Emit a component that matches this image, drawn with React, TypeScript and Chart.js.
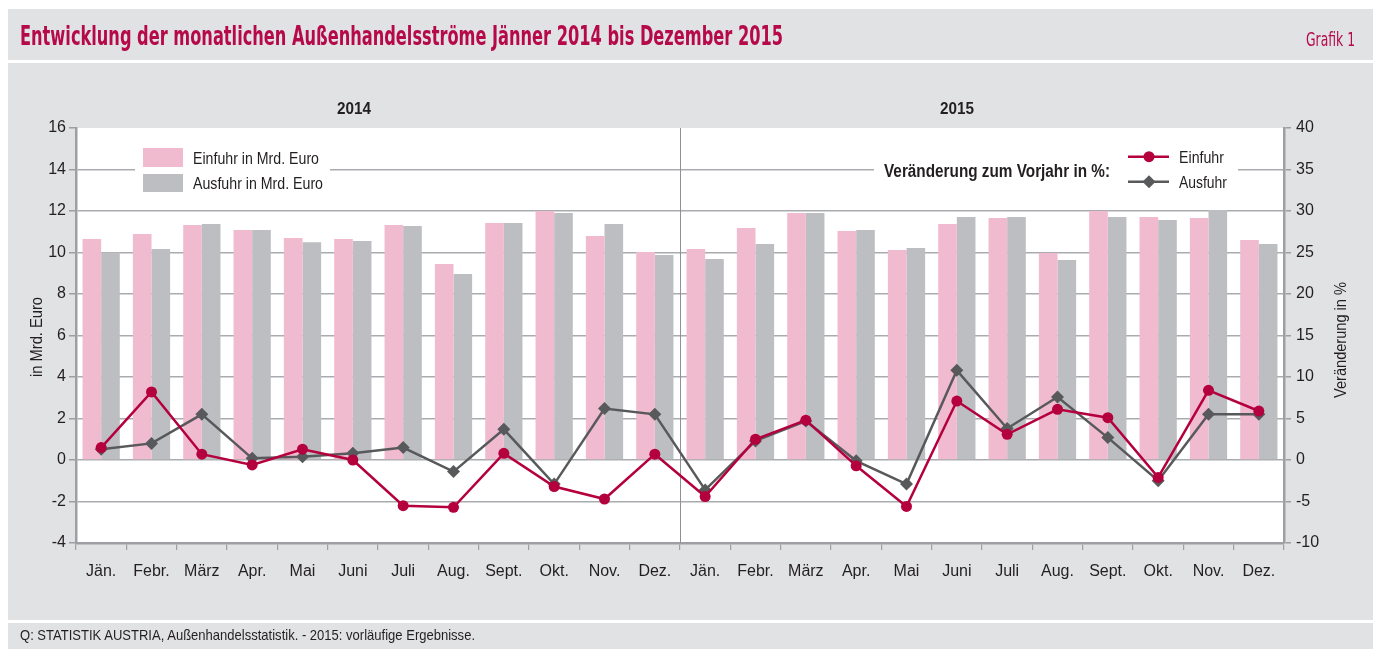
import React, { useEffect, useRef } from "react";
import { Chart, registerables } from "chart.js";

Chart.register(...registerables);

const months = ["Jän.", "Febr.", "März", "Apr.", "Mai", "Juni", "Juli", "Aug.", "Sept.", "Okt.", "Nov.", "Dez."];
const categories = [...months, ...months];

const einfuhrMrd = [10.65, 10.89, 11.33, 11.08, 10.7, 10.65, 11.33, 9.45, 11.42, 12.0, 10.8, 10.02,
  10.17, 11.18, 11.9, 11.04, 10.12, 11.37, 11.66, 9.98, 12.0, 11.71, 11.66, 10.6];
const ausfuhrMrd = [10.0, 10.17, 11.37, 11.08, 10.5, 10.55, 11.28, 8.96, 11.42, 11.9, 11.37, 9.88,
  9.69, 10.41, 11.9, 11.08, 10.22, 11.71, 11.71, 9.64, 11.71, 11.57, 12.05, 10.41];
const einfuhrPct = [1.5, 8.2, 0.7, -0.6, 1.3, 0.0, -5.5, -5.7, 0.8, -3.2, -4.7, 0.7,
  -4.4, 2.5, 4.8, -0.7, -5.6, 7.1, 3.1, 6.1, 5.1, -2.1, 8.4, 5.9];
const ausfuhrPct = [1.3, 2.0, 5.5, 0.2, 0.4, 0.8, 1.5, -1.4, 3.7, -2.9, 6.2, 5.5,
  -3.6, 2.3, 4.7, -0.1, -2.9, 10.8, 3.8, 7.6, 2.7, -2.5, 5.5, 5.5];

const leftTicks = { min: -4, max: 16, step: 2 };
const rightTicks = { min: -10, max: 40, step: 5 };
const yearLabels = ["2014", "2015"];

const FONT = '"Liberation Sans", Arial, Helvetica, sans-serif';
const TITLEFONT = '"DejaVu Sans Condensed", "Liberation Sans Narrow", "Liberation Sans", sans-serif';
const BG = "#e1e2e4";
const PINK = "#f0bacf";
const GREYBAR = "#bdbec1";
const RED = "#b5003e";
const DARKGREY = "#58595b";
const CRIMSON = "#b5094a";
const AXIS = "#9d9fa2";
const GRID = "#a9abae";
const TEXT = "#231f20";

const bgPlugin = {
  id: "plotBg",
  beforeDraw(chart: any) {
    const { ctx, chartArea } = chart;
    ctx.save();
    ctx.fillStyle = "#ffffff";
    ctx.fillRect(chartArea.left, chartArea.top, chartArea.right - chartArea.left, chartArea.bottom - chartArea.top);
    ctx.restore();
  },
  beforeDatasetsDraw(chart: any) {
    const { ctx, chartArea, scales } = chart;
    const x = (scales.x.getPixelForValue(11) + scales.x.getPixelForValue(12)) / 2;
    ctx.save();
    ctx.strokeStyle = "#8e9093";
    ctx.lineWidth = 1;
    ctx.beginPath();
    ctx.moveTo(Math.round(x) + 0.5, chartArea.top);
    ctx.lineTo(Math.round(x) + 0.5, chartArea.bottom);
    ctx.stroke();
    ctx.restore();
  },
};

export default function App() {
  const ref = useRef<HTMLCanvasElement | null>(null);

  useEffect(() => {
    if (!ref.current) return;
    const tickFont = { family: FONT, size: 16 };
    const chart = new Chart(ref.current, {
      type: "bar",
      data: {
        labels: categories,
        datasets: [
          {
            type: "line",
            label: "Einfuhr %",
            data: einfuhrPct,
            yAxisID: "y1",
            borderColor: RED,
            backgroundColor: RED,
            borderWidth: 2.5,
            pointStyle: "circle",
            pointRadius: 5.5,
            pointBorderWidth: 0,
            pointBackgroundColor: RED,
            tension: 0,
            order: 0,
          } as any,
          {
            type: "line",
            label: "Ausfuhr %",
            data: ausfuhrPct,
            yAxisID: "y1",
            borderColor: DARKGREY,
            backgroundColor: DARKGREY,
            borderWidth: 2.5,
            pointStyle: "rectRot",
            pointRadius: 6.5,
            pointBorderWidth: 0,
            pointBackgroundColor: DARKGREY,
            tension: 0,
            order: 1,
          } as any,
          {
            type: "bar",
            label: "Einfuhr in Mrd. Euro",
            data: einfuhrMrd,
            yAxisID: "y",
            backgroundColor: PINK,
            borderWidth: 0,
            categoryPercentage: 0.74,
            barPercentage: 1.0,
            order: 2,
          },
          {
            type: "bar",
            label: "Ausfuhr in Mrd. Euro",
            data: ausfuhrMrd,
            yAxisID: "y",
            backgroundColor: GREYBAR,
            borderWidth: 0,
            categoryPercentage: 0.74,
            barPercentage: 1.0,
            order: 3,
          },
        ],
      },
      options: {
        responsive: false,
        animation: false,
        devicePixelRatio: 1,
        layout: { padding: { top: 65, left: 0, right: 0, bottom: 0 } },
        plugins: { legend: { display: false }, tooltip: { enabled: false }, title: { display: false } },
        scales: {
          x: {
            type: "category",
            offset: true,
            grid: { drawOnChartArea: false, offset: true, tickLength: 7, tickColor: AXIS, lineWidth: 1.2 },
            border: { color: AXIS, width: 2.5 },
            ticks: { font: tickFont, color: TEXT, padding: 12, maxRotation: 0, autoSkip: false },
            afterFit: (s: any) => { s.height = 77; },
          },
          y: {
            position: "left",
            min: leftTicks.min,
            max: leftTicks.max,
            ticks: { stepSize: leftTicks.step, font: tickFont, color: TEXT, padding: 3, callback: (v: any) => String(v) },
            grid: {
              color: (c: any) => (c.tick && c.tick.value === leftTicks.max ? "rgba(0,0,0,0)" : GRID),
              lineWidth: 1.5,
              tickLength: 7,
              tickColor: AXIS,
            },
            border: { color: AXIS, width: 2.5 },
            afterFit: (s: any) => { s.width = 68; },
          },
          y1: {
            position: "right",
            min: rightTicks.min,
            max: rightTicks.max,
            ticks: { stepSize: rightTicks.step, font: tickFont, color: TEXT, padding: 5, callback: (v: any) => String(v) },
            grid: { drawOnChartArea: false, tickLength: 7, tickColor: AXIS, lineWidth: 1.5 },
            border: { color: AXIS, width: 2.5 },
            afterFit: (s: any) => { s.width = 89; },
          },
        },
      } as any,
      plugins: [bgPlugin],
    });
    return () => chart.destroy();
  }, []);

  const sv: any = { fontFamily: FONT };
  const tv: any = { fontFamily: TITLEFONT };

  return (
    <div style={{ position: "absolute", left: 0, top: 0, width: 1373, height: 649, overflow: "hidden", background: "#fff" }}>
      <div style={{ position: "absolute", left: 8, top: 9, width: 1365, height: 51, background: BG }} />
      <div style={{ position: "absolute", left: 8, top: 63, width: 1365, height: 557, background: BG }}>
        <canvas ref={ref} width={1365} height={557} style={{ position: "absolute", left: 0, top: 0, width: 1365, height: 557 }} />
      </div>
      <div style={{ position: "absolute", left: 8, top: 623, width: 1365, height: 30, background: BG }} />
      <svg width={1373} height={649} style={{ position: "absolute", left: 0, top: 0, pointerEvents: "none" }}>
        <text x={20} y={45} fontSize={27} fontWeight="bold" fill={CRIMSON} style={tv} textLength={763} lengthAdjust="spacingAndGlyphs">
          Entwicklung der monatlichen Außenhandelsströme Jänner 2014 bis Dezember 2015
        </text>
        <text x={1306} y={46} fontSize={20} fill={CRIMSON} style={tv} textLength={49} lengthAdjust="spacingAndGlyphs">Grafik 1</text>

        <text x={354} y={114} fontSize={17} fontWeight="bold" fill={TEXT} textAnchor="middle" style={sv} textLength={34} lengthAdjust="spacingAndGlyphs">{yearLabels[0]}</text>
        <text x={957} y={114} fontSize={17} fontWeight="bold" fill={TEXT} textAnchor="middle" style={sv} textLength={34} lengthAdjust="spacingAndGlyphs">{yearLabels[1]}</text>

        <rect x={135} y={143} width={195} height={54} fill="#fff" />
        <rect x={143} y={148} width={40} height={19} fill={PINK} />
        <rect x={143} y={174} width={40} height={18} fill={GREYBAR} />
        <text x={193} y={164} fontSize={17} fill={TEXT} style={sv} textLength={126} lengthAdjust="spacingAndGlyphs">Einfuhr in Mrd. Euro</text>
        <text x={193} y={189} fontSize={17} fill={TEXT} style={sv} textLength={130} lengthAdjust="spacingAndGlyphs">Ausfuhr in Mrd. Euro</text>

        <rect x={874} y={140} width={364} height={58} fill="#fff" />
        <text x={884} y={176.5} fontSize={18} fontWeight="bold" fill={TEXT} style={sv} textLength={226} lengthAdjust="spacingAndGlyphs">Veränderung zum Vorjahr in %:</text>
        <line x1={1128} y1={156.7} x2={1169} y2={156.7} stroke={RED} strokeWidth={2.5} />
        <circle cx={1149} cy={156.7} r={5.5} fill={RED} />
        <line x1={1128} y1={181.7} x2={1169} y2={181.7} stroke={DARKGREY} strokeWidth={2.5} />
        <polygon points="1149,175.2 1155.5,181.7 1149,188.2 1142.5,181.7" fill={DARKGREY} />
        <text x={1179} y={163} fontSize={17} fill={TEXT} style={sv} textLength={45} lengthAdjust="spacingAndGlyphs">Einfuhr</text>
        <text x={1179} y={188} fontSize={17} fill={TEXT} style={sv} textLength={48} lengthAdjust="spacingAndGlyphs">Ausfuhr</text>

        <text x={0} y={0} fontSize={16} fill={TEXT} textAnchor="middle" style={sv} transform="translate(42 337) rotate(-90)" textLength={80} lengthAdjust="spacingAndGlyphs">in Mrd. Euro</text>
        <text x={0} y={0} fontSize={16} fill={TEXT} textAnchor="middle" style={sv} transform="translate(1346 340) rotate(-90)" textLength={116} lengthAdjust="spacingAndGlyphs">Veränderung in %</text>

        <text x={20} y={640} fontSize={15} fill={TEXT} style={sv} textLength={455} lengthAdjust="spacingAndGlyphs">
          Q: STATISTIK AUSTRIA, Außenhandelsstatistik. - 2015: vorläufige Ergebnisse.
        </text>
      </svg>
    </div>
  );
}
